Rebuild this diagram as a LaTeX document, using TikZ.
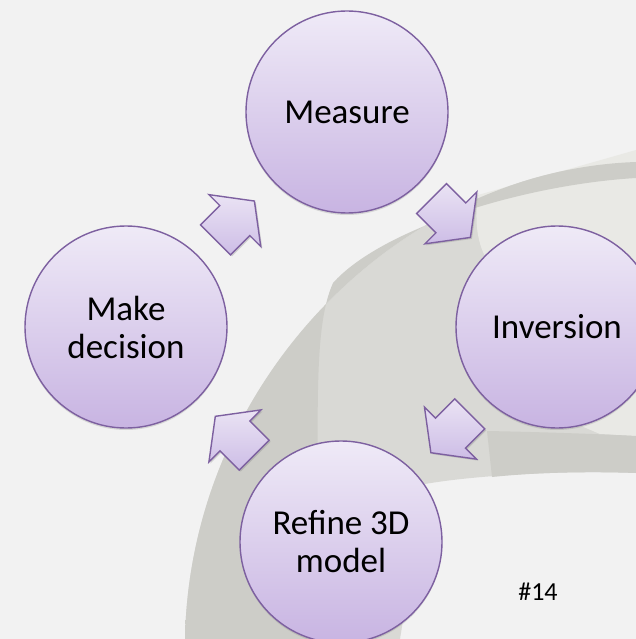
\documentclass[tikz,border=0pt]{standalone}
\usepackage{fontspec}
\setmainfont{Carlito}
\usetikzlibrary{shapes.arrows,shadows,calc}

\definecolor{slidebg}{HTML}{F2F2F2}
\definecolor{swooshmid}{HTML}{D9D9D5}
\definecolor{swooshdark}{HTML}{CDCDC8}
\definecolor{swooshpale}{HTML}{E1E1DD}
\definecolor{swooshlight}{HTML}{E9E9E5}
\definecolor{cycleline}{HTML}{7D60A0}
\definecolor{cycletop}{HTML}{EFEAF7}
\definecolor{cyclebot}{HTML}{C8B4E2}
\definecolor{arrowtop}{HTML}{EAE3F4}
\definecolor{arrowbot}{HTML}{CDBDE6}

\begin{document}
\begin{tikzpicture}[x=1pt, y=-1pt,
    stage node/.style={circle, draw=cycleline, line width=1.4pt, top color=cycletop,
      bottom color=cyclebot, minimum size=202pt, inner sep=0pt, align=center,
      font=\fontsize{35}{38}\selectfont,
      drop shadow={shadow xshift=0pt, shadow yshift=-2pt, opacity=0.25}},
    cycle arrow/.style={single arrow, draw=cycleline, line width=1.4pt, top color=arrowtop,
      bottom color=arrowbot, minimum height=55pt, inner xsep=0pt, inner ysep=20.5pt,
      single arrow head extend=15.5pt, single arrow tip angle=106, anchor=tail,
      drop shadow={shadow xshift=1.5pt, shadow yshift=-1.5pt, opacity=0.3}}]

  \useasboundingbox (0,0) rectangle (636,639);
  \clip (0,0) rectangle (636,639);
  \fill[slidebg] (0,0) rectangle (636,639);

  % background swoosh
  \fill[swooshmid] (185,639) .. controls (190,380) and (400,170) .. (636,162)
    -- (636,473) .. controls (560,470) and (470,476) .. (425,484) -- (400,639) -- cycle;
  \fill[swooshlight] (636,150) -- (478,195) .. controls (474,225) and (478,245) .. (488,262)
    -- (520,400) -- (600,434) -- (636,436) -- cycle;
  \shade[top color=swooshdark, middle color=swooshpale, bottom color=swooshdark]
    (185,639) .. controls (190,380) and (400,170) .. (636,162) -- (636,178)
    .. controls (520,185) and (380,230) .. (333,283)
    .. controls (312,330) and (318,420) .. (320,639) -- cycle;
  \fill[swooshdark] (487,431) .. controls (540,432) and (600,434) .. (636,436)
    -- (636,473) .. controls (580,471) and (530,473) .. (492,477) -- cycle;

  \node[stage node] (measure) at (347,112) {Measure};
  \node[stage node] (inversion) at (557,327) {Inversion};
  \node[stage node] (refine) at (341,542) {Refine 3D\\model};
  \node[stage node] (decision) at (126,327) {Make\\decision};

  % arrows: tail placed half a length before the midpoint
  \node[cycle arrow, rotate=45] (arrow 1) at ($(decision)!0.5!(measure)!30pt!(decision)$) {};
  \node[cycle arrow, rotate=-45] (arrow 2) at ($(measure)!0.5!(inversion)!30pt!(measure)$) {};
  \node[cycle arrow, rotate=-135] (arrow 3) at ($(inversion)!0.5!(refine)!30pt!(inversion)$) {};
  \node[cycle arrow, rotate=135] (arrow 4) at ($(refine)!0.5!(decision)!30pt!(refine)$) {};

  \node[font=\fontsize{26}{30}\selectfont] (slide no) at (538,592) {\#14};

\end{tikzpicture}
\end{document}
